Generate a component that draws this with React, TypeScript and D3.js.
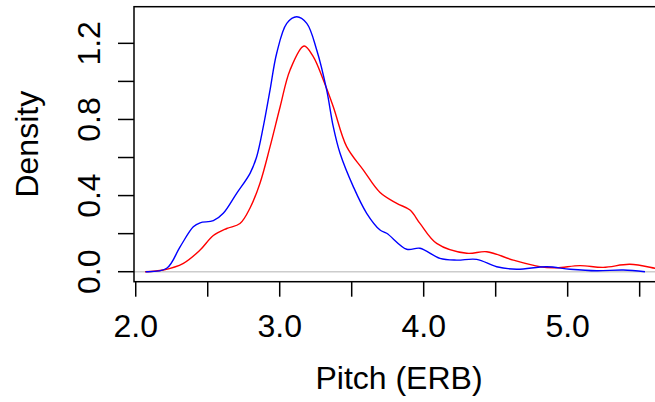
import React from "react";
import * as d3 from "d3";

// density curves (pitch in ERB, density)
const blueX = [2.069, 2.215, 2.308, 2.4, 2.447, 2.539, 2.608, 2.701, 2.794, 2.84, 2.886, 2.933, 2.979, 3.049, 3.118, 3.188, 3.257, 3.326, 3.372, 3.419, 3.511, 3.604, 3.697, 3.743, 3.882, 3.974, 4.113, 4.229, 4.368, 4.507, 4.646, 4.854, 5.016, 5.201, 5.386, 5.537];
const blueY = [0, 0.018, 0.131, 0.236, 0.257, 0.268, 0.307, 0.412, 0.517, 0.604, 0.762, 0.955, 1.148, 1.305, 1.34, 1.305, 1.165, 0.955, 0.762, 0.622, 0.447, 0.307, 0.219, 0.202, 0.118, 0.123, 0.07, 0.061, 0.065, 0.026, 0.013, 0.026, 0.013, 0.005, 0.009, 0];

const redX = [2.065, 2.192, 2.331, 2.447, 2.539, 2.632, 2.724, 2.794, 2.863, 2.933, 3.003, 3.072, 3.169, 3.233, 3.303, 3.372, 3.465, 3.581, 3.697, 3.813, 3.905, 3.974, 4.09, 4.299, 4.438, 4.622, 4.808, 4.924, 5.085, 5.247, 5.432, 5.607, 5.66];
const redY = [0, 0.009, 0.044, 0.114, 0.19, 0.227, 0.253, 0.335, 0.465, 0.657, 0.867, 1.06, 1.186, 1.13, 1.007, 0.867, 0.657, 0.534, 0.416, 0.359, 0.324, 0.254, 0.149, 0.097, 0.105, 0.061, 0.026, 0.021, 0.032, 0.023, 0.039, 0.018, 0.01];

const xTicks = [2.0, 2.5, 3.0, 3.5, 4.0, 4.5, 5.0, 5.5];
const xLabels = [2.0, 3.0, 4.0, 5.0];
const yTicks = [0, 0.2, 0.4, 0.6, 0.8, 1.0, 1.2];
const yLabels = [0, 0.4, 0.8, 1.2];

const W = 655;
const H = 402;
const left = 134, right = 664, top = 6.7, bottom = 281.7;
const font = "'Liberation Sans', Arial, Helvetica, sans-serif";

export default function App() {
  const x = d3.scaleLinear().domain([1.988, 5.669]).range([left, right]);
  const y = d3.scaleLinear().domain([-0.0525, 1.3925]).range([bottom, top]);

  const line = d3
    .line<[number, number]>()
    .x((d) => x(d[0]))
    .y((d) => y(d[1]))
    .curve(d3.curveCatmullRom.alpha(0.5));

  const blue = blueX.map((v, i) => [v, blueY[i]] as [number, number]);
  const red = redX.map((v, i) => [v, redY[i]] as [number, number]);

  return (
    <svg
      width={W}
      height={H}
      style={{ position: "absolute", left: 0, top: 0, background: "#fff" }}
      fontFamily={font}
    >
      <defs>
        <clipPath id="plot">
          <rect x={left} y={top} width={right - left} height={bottom - top} />
        </clipPath>
      </defs>
      {/* zero line */}
      <line x1={left} x2={right} y1={y(0)} y2={y(0)} stroke="#cccccc" strokeWidth={1.5} />
      <g clipPath="url(#plot)" fill="none" strokeWidth={1.4}>
        <path d={line(red) || ""} stroke="#ff0000" />
        <path d={line(blue) || ""} stroke="#0000ff" />
      </g>
      <rect x={left} y={top} width={right - left} height={bottom - top} fill="none" stroke="#000" strokeWidth={1.5} />

      {/* x axis */}
      <g>
        {xTicks.map((t) => (
          <line key={t} x1={x(t)} x2={x(t)} y1={bottom} y2={bottom + 15} stroke="#000" strokeWidth={1.5} />
        ))}
        {xLabels.map((t) => (
          <text key={t} x={x(t)} y={336.5} textAnchor="middle" fontSize={32}>
            {t.toFixed(1)}
          </text>
        ))}
        <text x={(left + right) / 2} y={388.5} textAnchor="middle" fontSize={32}>
          Pitch (ERB)
        </text>
      </g>

      {/* y axis */}
      <g>
        {yTicks.map((t) => (
          <line key={t} x1={left - 16} x2={left} y1={y(t)} y2={y(t)} stroke="#000" strokeWidth={1.5} />
        ))}
        {yLabels.map((t) => (
          <text key={t} transform={`translate(100,${y(t)}) rotate(-90)`} textAnchor="middle" fontSize={32}>
            {t.toFixed(1)}
          </text>
        ))}
        <text transform={`translate(38,${(top + bottom) / 2}) rotate(-90)`} textAnchor="middle" fontSize={32}>
          Density
        </text>
      </g>
    </svg>
  );
}
